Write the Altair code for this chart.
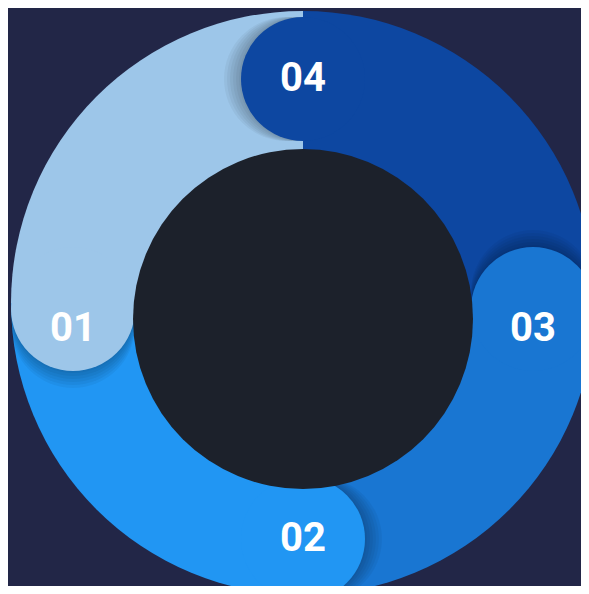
import altair as alt
import pandas as pd

# ---- data ----
labels = ["01", "02", "03", "04"]
values = [25, 25, 25, 25]
colors = ["#9DC6E9", "#2196F3", "#1976D2", "#0D47A1"]

df = pd.DataFrame({"label": labels, "value": values})

# ---- layout constants (reference pixel space) ----
W, H = 573, 578
OCX, OCY, OR = 303, 303, 292      # outer ring
ICX, ICY, IR = 303, 319, 170      # dark centre disc
CCX, CCY, CR, CAP = 303, 309, 230, 62  # cap ring and cap radius

xs = alt.Scale(domain=[8, 8 + W], nice=False, zero=False)
ys = alt.Scale(domain=[8, 8 + H], nice=False, zero=False, reverse=True)

color = alt.Color("label:N", scale=alt.Scale(domain=labels, range=colors), legend=None)

base = (
    alt.Chart(df)
    .transform_joinaggregate(total="sum(value)")
    .transform_window(cum="sum(value)", sort=[alt.SortField("label", order="descending")])
    .transform_calculate(a="2*PI*(datum.cum - datum.value)/datum.total")
)

wedges = (
    base.transform_calculate(ox=str(OCX), oy=str(OCY))
    .mark_arc(radius=OR)
    .encode(
        theta=alt.Theta("value:Q", stack=True),
        order=alt.Order("label:N", sort="descending"),
        color=color,
        x=alt.X("ox:Q", scale=xs, axis=None),
        y=alt.Y("oy:Q", scale=ys, axis=None),
    )
)

shadows = []
for k in [2, 5, 8, 11, 14, 17]:
    shadows.append(
        base.transform_calculate(
            sx=f"{CCX} + {CR}*sin(datum.a) - {k}*cos(datum.a)",
            sy=f"{CCY} - {CR}*cos(datum.a) - {k}*sin(datum.a)",
        )
        .mark_circle(size=(2 * CAP) ** 2, color="black", opacity=0.045)
        .encode(
            x=alt.X("sx:Q", scale=xs, axis=None),
            y=alt.Y("sy:Q", scale=ys, axis=None),
        )
    )

caps = (
    base.transform_calculate(
        cx=f"{CCX} + {CR}*sin(datum.a)",
        cy=f"{CCY} - {CR}*cos(datum.a)",
    )
    .mark_circle(size=(2 * CAP) ** 2, opacity=1)
    .encode(
        x=alt.X("cx:Q", scale=xs, axis=None),
        y=alt.Y("cy:Q", scale=ys, axis=None),
        color=color,
    )
)

inner = (
    alt.Chart(df)
    .transform_aggregate(n="count()")
    .transform_calculate(ix=str(ICX), iy=str(ICY))
    .mark_circle(size=(2 * IR) ** 2, opacity=1, color="#1C212B")
    .encode(
        x=alt.X("ix:Q", scale=xs, axis=None),
        y=alt.Y("iy:Q", scale=ys, axis=None),
    )
)

text = (
    base.transform_calculate(
        lx=f"{CCX} + {CR}*sin(datum.a)",
        ly=f"{CCY} - {CR}*cos(datum.a) + 20*pow(sin(datum.a), 2)",
    )
    .mark_text(font="Roboto", fontWeight="bold", fontSize=40, color="white",
               align="center", baseline="middle")
    .encode(
        x=alt.X("lx:Q", scale=xs, axis=None),
        y=alt.Y("ly:Q", scale=ys, axis=None),
        text="label:N",
    )
)

chart = (
    alt.layer(wedges, *shadows, caps, inner, text)
    .properties(width=W, height=H, padding=0, autosize=alt.AutoSizeParams(type="none"),
                background="#222647")
    .configure_view(stroke=None)
)

chart.save("out.html", embed_options={"renderer": "svg", "actions": False})
